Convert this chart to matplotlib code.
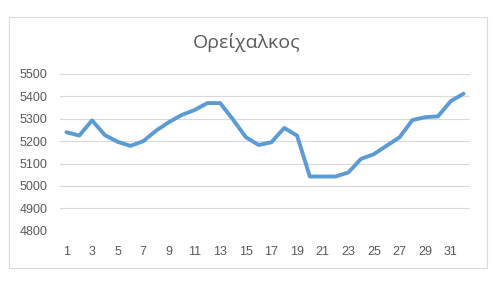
import matplotlib
matplotlib.use("Agg")
import matplotlib.pyplot as plt
from matplotlib.patches import Rectangle

# data
days = list(range(1, 33))
prices = [5240, 5225, 5293, 5227, 5197, 5179, 5200, 5247, 5285, 5317,
          5339, 5370, 5370, 5297, 5218, 5183, 5195, 5259, 5225, 5042,
          5042, 5042, 5060, 5121, 5142, 5180, 5217, 5294, 5307, 5311,
          5379, 5412]
yticks = [4800, 4900, 5000, 5100, 5200, 5300, 5400, 5500]
xticks = list(range(1, 33, 2))
title = "Ορείχαλκος"

text_color = "#595959"
grid_color = "#D9D9D9"
line_color = "#5B9BD5"

fig = plt.figure(figsize=(5.0, 2.81), dpi=100)
fig.patch.set_facecolor("white")

# chart border
fig.patches.append(Rectangle((9 / 500, 1 - 268 / 281), 478 / 500, 251 / 281,
                             transform=fig.transFigure, fill=False,
                             edgecolor=grid_color, linewidth=0.8))

ax = fig.add_axes([60 / 500, 1 - 230.7 / 281, 410 / 500, 156.7 / 281])
ax.plot(days, prices, color=line_color, linewidth=2.8,
        solid_joinstyle="round", solid_capstyle="round", zorder=3)

ax.set_xlim(0.5, 32.5)
ax.set_ylim(4800, 5500)
ax.set_yticks(yticks)
ax.set_xticks(xticks)
ax.grid(axis="y", color=grid_color, linewidth=0.8)
ax.set_axisbelow(True)
for s in ax.spines.values():
    s.set_visible(False)
ax.tick_params(axis="both", length=0, colors=text_color, labelsize=9)
ax.tick_params(axis="y", pad=9)
ax.tick_params(axis="x", pad=11)
for lab in ax.get_xticklabels() + ax.get_yticklabels():
    lab.set_fontfamily("Liberation Sans")

fig.text(0.494, 1 - 42 / 281, title, ha="center", va="center",
         fontsize=14, color=text_color, fontfamily="Open Sans")

fig.savefig("out.png", dpi=100)
